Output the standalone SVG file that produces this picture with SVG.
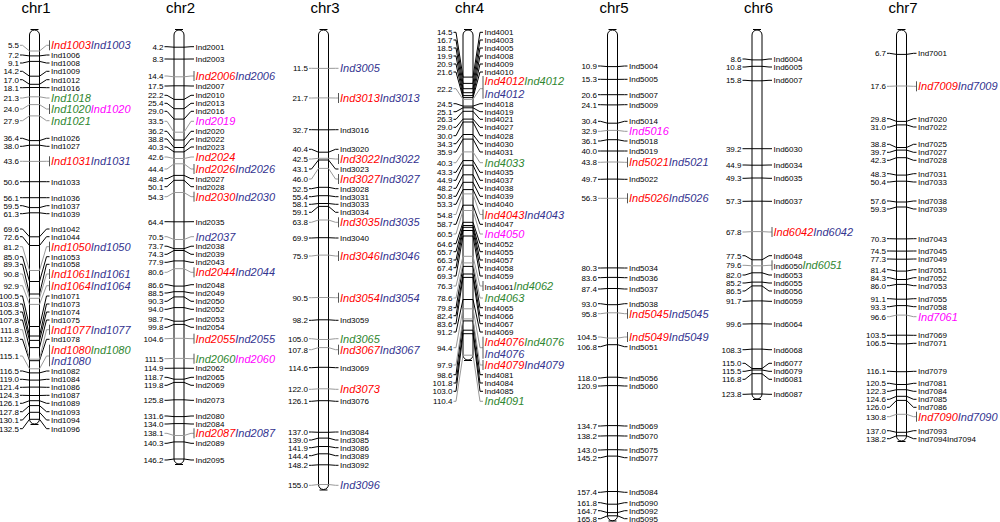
<svg xmlns="http://www.w3.org/2000/svg" width="1000" height="522" viewBox="0 0 1000 522">
<style>
.pill{fill:#fff;stroke:#000;stroke-width:1}
.end{fill:none;stroke:#000;stroke-width:1.2}
.t{font-family:"Liberation Sans",Arial,sans-serif;font-size:15px;text-anchor:middle}
.n{font-family:"Liberation Sans",Arial,sans-serif;font-size:8px;text-anchor:end}
.l{font-family:"Liberation Sans",Arial,sans-serif;font-size:8px}
.q{font-family:"Liberation Sans",Arial,sans-serif;font-size:11px;font-style:italic}
.r{fill:#f00}.b{fill:#33338f}.g{fill:#2f862f}.p{fill:#f0f}.k{fill:#000}
.ck{fill:none;stroke:#000;stroke-width:1}
.cg{fill:none;stroke:#999;stroke-width:1}
.tk{fill:none;stroke:#555;stroke-width:1}
</style>
<rect width="1000" height="522" fill="#fff"/>

<g id="chr1" transform="translate(34.5,0)">
<rect class="pill" x="-5" y="30" width="10" height="394" rx="5"/>
<path class="end" d="M-4 29.5H4M-4 424.5H4"/>
<text class="t" x="1.5" y="13">chr1</text>
<text class="n" x="-15.5" y="48.3">5.5</text><text class="n" x="-15.5" y="58">7.2</text><text class="n" x="-15.5" y="66">9.1</text><text class="n" x="-15.5" y="74.3">14.2</text><text class="n" x="-15.5" y="82.7">17.0</text><text class="n" x="-15.5" y="90.7">18.1</text><text class="n" x="-15.5" y="101">21.3</text><text class="n" x="-15.5" y="112">24.0</text><text class="n" x="-15.5" y="123.7">27.9</text><text class="n" x="-15.5" y="141.3">36.4</text><text class="n" x="-15.5" y="149.3">38.0</text><text class="n" x="-15.5" y="164.3">43.6</text><text class="n" x="-15.5" y="184.7">50.6</text><text class="n" x="-15.5" y="200.7">56.1</text><text class="n" x="-15.5" y="208.7">59.5</text><text class="n" x="-15.5" y="216.7">61.3</text><text class="n" x="-15.5" y="232">69.6</text><text class="n" x="-15.5" y="239.7">72.6</text><text class="n" x="-15.5" y="249.7">81.2</text><text class="n" x="-15.5" y="259.7">85.0</text><text class="n" x="-15.5" y="267.3">89.3</text><text class="n" x="-15.5" y="277">90.8</text><text class="n" x="-15.5" y="288.7">92.9</text><text class="n" x="-15.5" y="299">100.5</text><text class="n" x="-15.5" y="307">103.8</text><text class="n" x="-15.5" y="315">105.3</text><text class="n" x="-15.5" y="323">107.8</text><text class="n" x="-15.5" y="332.7">111.8</text><text class="n" x="-15.5" y="342.3">112.3</text><text class="n" x="-15.5" y="359">115.1</text><text class="n" x="-15.5" y="374">116.5</text><text class="n" x="-15.5" y="382.3">119.0</text><text class="n" x="-15.5" y="390.3">121.4</text><text class="n" x="-15.5" y="398.3">124.3</text><text class="n" x="-15.5" y="406.3">126.1</text><text class="n" x="-15.5" y="414.7">127.8</text><text class="n" x="-15.5" y="423">130.1</text><text class="n" x="-15.5" y="431.7">132.5</text>
<text class="q r" x="16.5" y="49.3">Ind1003<tspan class="b">Ind1003</tspan></text>
<text class="l" x="16.5" y="58">Ind1006</text><text class="l" x="16.5" y="66">Ind1008</text><text class="l" x="16.5" y="74.3">Ind1009</text><text class="l" x="16.5" y="82.7">Ind1012</text><text class="l" x="16.5" y="90.7">Ind1016</text>
<text class="q g" x="16.5" y="102">Ind1018</text>
<text class="q g" x="16.5" y="113">Ind1020<tspan class="p">Ind1020</tspan></text>
<text class="q g" x="16.5" y="124.7">Ind1021</text>
<text class="l" x="16.5" y="141.3">Ind1026</text><text class="l" x="16.5" y="149.3">Ind1027</text>
<text class="q r" x="16.5" y="165.3">Ind1031<tspan class="b">Ind1031</tspan></text>
<text class="l" x="16.5" y="184.7">Ind1033</text><text class="l" x="16.5" y="200.7">Ind1036</text><text class="l" x="16.5" y="208.7">Ind1037</text><text class="l" x="16.5" y="216.7">Ind1039</text><text class="l" x="16.5" y="232">Ind1042</text><text class="l" x="16.5" y="239.7">Ind1044</text>
<text class="q r" x="16.5" y="250.7">Ind1050<tspan class="b">Ind1050</tspan></text>
<text class="l" x="16.5" y="259.7">Ind1053</text><text class="l" x="16.5" y="267.3">Ind1058</text>
<text class="q r" x="16.5" y="278">Ind1061<tspan class="b">Ind1061</tspan></text>
<text class="q r" x="16.5" y="289.7">Ind1064<tspan class="b">Ind1064</tspan></text>
<text class="l" x="16.5" y="299">Ind1071</text><text class="l" x="16.5" y="307">Ind1073</text><text class="l" x="16.5" y="315">Ind1074</text><text class="l" x="16.5" y="323">Ind1075</text>
<text class="q r" x="16.5" y="333.7">Ind1077<tspan class="b">Ind1077</tspan></text>
<text class="l" x="16.5" y="342.3">Ind1078</text>
<text class="q r" x="16.5" y="353.7">Ind1080<tspan class="g">Ind1080</tspan></text>
<text class="q b" x="16.5" y="365.3">Ind1080</text>
<text class="l" x="16.5" y="374">Ind1082</text><text class="l" x="16.5" y="382.3">Ind1084</text><text class="l" x="16.5" y="390.3">Ind1086</text><text class="l" x="16.5" y="398.3">Ind1087</text><text class="l" x="16.5" y="406.3">Ind1089</text><text class="l" x="16.5" y="414.7">Ind1093</text><text class="l" x="16.5" y="423">Ind1094</text><text class="l" x="16.5" y="431.7">Ind1096</text>
</g>

<g id="chr2" transform="translate(179,0)">
<rect class="pill" x="-5" y="30" width="10" height="434" rx="5"/>
<path class="end" d="M-4 29.5H4M-4 464.5H4"/>
<text class="t" x="1.5" y="13">chr2</text>
<text class="n" x="-15.5" y="49.7">4.2</text><text class="n" x="-15.5" y="62">8.3</text><text class="n" x="-15.5" y="79">14.4</text><text class="n" x="-15.5" y="89">17.5</text><text class="n" x="-15.5" y="98.3">22.2</text><text class="n" x="-15.5" y="106.3">25.4</text><text class="n" x="-15.5" y="114.3">29.0</text><text class="n" x="-15.5" y="124.3">33.5</text><text class="n" x="-15.5" y="134.3">36.2</text><text class="n" x="-15.5" y="142">38.8</text><text class="n" x="-15.5" y="150">40.3</text><text class="n" x="-15.5" y="160">42.6</text><text class="n" x="-15.5" y="172">44.4</text><text class="n" x="-15.5" y="181.7">48.4</text><text class="n" x="-15.5" y="189.7">50.1</text><text class="n" x="-15.5" y="199.7">54.3</text><text class="n" x="-15.5" y="224.7">64.4</text><text class="n" x="-15.5" y="239.7">70.5</text><text class="n" x="-15.5" y="249.2">73.7</text><text class="n" x="-15.5" y="257.3">74.3</text><text class="n" x="-15.5" y="265.3">77.9</text><text class="n" x="-15.5" y="275.3">80.6</text><text class="n" x="-15.5" y="287.7">86.6</text><text class="n" x="-15.5" y="296">88.5</text><text class="n" x="-15.5" y="304.3">90.3</text><text class="n" x="-15.5" y="312.3">94.0</text><text class="n" x="-15.5" y="322">98.7</text><text class="n" x="-15.5" y="330.3">99.8</text><text class="n" x="-15.5" y="341.7">104.6</text><text class="n" x="-15.5" y="361.7">111.5</text><text class="n" x="-15.5" y="371.3">114.9</text><text class="n" x="-15.5" y="380.3">118.7</text><text class="n" x="-15.5" y="388.3">119.8</text><text class="n" x="-15.5" y="403.3">125.8</text><text class="n" x="-15.5" y="419">131.6</text><text class="n" x="-15.5" y="427">134.0</text><text class="n" x="-15.5" y="436.3">138.1</text><text class="n" x="-15.5" y="446.3">140.3</text><text class="n" x="-15.5" y="463">146.2</text>
<text class="l" x="16.5" y="49.7">Ind2001</text><text class="l" x="16.5" y="62">Ind2003</text>
<text class="q r" x="16.5" y="80">Ind2006<tspan class="b">Ind2006</tspan></text>
<text class="l" x="16.5" y="89">Ind2007</text><text class="l" x="16.5" y="98.3">Ind2010</text><text class="l" x="16.5" y="106.3">Ind2013</text><text class="l" x="16.5" y="114.3">Ind2016</text>
<text class="q p" x="16.5" y="125.3">Ind2019</text>
<text class="l" x="16.5" y="134.3">Ind2020</text><text class="l" x="16.5" y="142">Ind2022</text><text class="l" x="16.5" y="150">Ind2023</text>
<text class="q r" x="16.5" y="161">Ind2024</text>
<text class="q r" x="16.5" y="173">Ind2026<tspan class="b">Ind2026</tspan></text>
<text class="l" x="16.5" y="181.7">Ind2027</text><text class="l" x="16.5" y="189.7">Ind2028</text>
<text class="q r" x="16.5" y="200.7">Ind2030<tspan class="b">Ind2030</tspan></text>
<text class="l" x="16.5" y="224.7">Ind2035</text>
<text class="q b" x="16.5" y="240.7">Ind2037</text>
<text class="l" x="16.5" y="249.2">Ind2038</text><text class="l" x="16.5" y="257.3">Ind2039</text><text class="l" x="16.5" y="265.3">Ind2043</text>
<text class="q r" x="16.5" y="276.3">Ind2044<tspan class="b">Ind2044</tspan></text>
<text class="l" x="16.5" y="287.7">Ind2048</text><text class="l" x="16.5" y="296">Ind2049</text><text class="l" x="16.5" y="304.3">Ind2050</text><text class="l" x="16.5" y="312.3">Ind2052</text><text class="l" x="16.5" y="322">Ind2053</text><text class="l" x="16.5" y="330.3">Ind2054</text>
<text class="q r" x="16.5" y="342.7">Ind2055<tspan class="b">Ind2055</tspan></text>
<text class="q g" x="16.5" y="362.7">Ind2060<tspan class="p">Ind2060</tspan></text>
<text class="l" x="16.5" y="371.3">Ind2062</text><text class="l" x="16.5" y="380.3">Ind2065</text><text class="l" x="16.5" y="388.3">Ind2069</text><text class="l" x="16.5" y="403.3">Ind2073</text><text class="l" x="16.5" y="419">Ind2080</text><text class="l" x="16.5" y="427">Ind2084</text>
<text class="q r" x="16.5" y="437.3">Ind2087<tspan class="b">Ind2087</tspan></text>
<text class="l" x="16.5" y="446.3">Ind2089</text><text class="l" x="16.5" y="463">Ind2095</text>
</g>

<g id="chr3" transform="translate(323.5,0)">
<rect class="pill" x="-5" y="30" width="10" height="459.5" rx="5"/>
<path class="end" d="M-4 29.5H4M-4 490H4"/>
<text class="t" x="1.5" y="13">chr3</text>
<text class="n" x="-15.5" y="71.3">11.5</text><text class="n" x="-15.5" y="101">21.7</text><text class="n" x="-15.5" y="132.7">32.7</text><text class="n" x="-15.5" y="152.3">40.4</text><text class="n" x="-15.5" y="162">42.5</text><text class="n" x="-15.5" y="172">43.1</text><text class="n" x="-15.5" y="182">46.0</text><text class="n" x="-15.5" y="191.7">52.5</text><text class="n" x="-15.5" y="199.7">55.4</text><text class="n" x="-15.5" y="207.3">58.1</text><text class="n" x="-15.5" y="215.3">59.1</text><text class="n" x="-15.5" y="225.3">63.8</text><text class="n" x="-15.5" y="241">69.9</text><text class="n" x="-15.5" y="259">75.9</text><text class="n" x="-15.5" y="300.7">90.5</text><text class="n" x="-15.5" y="323.3">98.2</text><text class="n" x="-15.5" y="341.7">105.0</text><text class="n" x="-15.5" y="352.7">107.8</text><text class="n" x="-15.5" y="370.7">114.6</text><text class="n" x="-15.5" y="392.3">122.0</text><text class="n" x="-15.5" y="404.3">126.1</text><text class="n" x="-15.5" y="435">137.0</text><text class="n" x="-15.5" y="443">139.0</text><text class="n" x="-15.5" y="450.7">141.9</text><text class="n" x="-15.5" y="458.7">144.4</text><text class="n" x="-15.5" y="468.3">148.2</text><text class="n" x="-15.5" y="488.3">155.0</text>
<text class="q b" x="16.5" y="72.3">Ind3005</text>
<text class="q r" x="16.5" y="102">Ind3013<tspan class="b">Ind3013</tspan></text>
<text class="l" x="16.5" y="132.7">Ind3016</text><text class="l" x="16.5" y="152.3">Ind3020</text>
<text class="q r" x="16.5" y="163">Ind3022<tspan class="b">Ind3022</tspan></text>
<text class="l" x="16.5" y="172">Ind3023</text>
<text class="q r" x="16.5" y="183">Ind3027<tspan class="b">Ind3027</tspan></text>
<text class="l" x="16.5" y="191.7">Ind3028</text><text class="l" x="16.5" y="199.7">Ind3031</text><text class="l" x="16.5" y="207.3">Ind3033</text><text class="l" x="16.5" y="215.3">Ind3034</text>
<text class="q r" x="16.5" y="226.3">Ind3035<tspan class="b">Ind3035</tspan></text>
<text class="l" x="16.5" y="241">Ind3040</text>
<text class="q r" x="16.5" y="260">Ind3046<tspan class="b">Ind3046</tspan></text>
<text class="q r" x="16.5" y="301.7">Ind3054<tspan class="b">Ind3054</tspan></text>
<text class="l" x="16.5" y="323.3">Ind3059</text>
<text class="q g" x="16.5" y="342.7">Ind3065</text>
<text class="q r" x="16.5" y="353.7">Ind3067<tspan class="b">Ind3067</tspan></text>
<text class="l" x="16.5" y="370.7">Ind3069</text>
<text class="q r" x="16.5" y="393.3">Ind3073</text>
<text class="l" x="16.5" y="404.3">Ind3076</text><text class="l" x="16.5" y="435">Ind3084</text><text class="l" x="16.5" y="443">Ind3085</text><text class="l" x="16.5" y="450.7">Ind3086</text><text class="l" x="16.5" y="458.7">Ind3089</text><text class="l" x="16.5" y="468.3">Ind3092</text>
<text class="q b" x="16.5" y="489.3">Ind3096</text>
</g>

<g id="chr4" transform="translate(468,0)">
<rect class="pill" x="-5" y="30" width="10" height="330" rx="5"/>
<path class="end" d="M-4 29.5H4M-4 360.5H4"/>
<text class="t" x="1.5" y="13">chr4</text>
<text class="n" x="-15.5" y="35.3">14.5</text><text class="n" x="-15.5" y="43">16.7</text><text class="n" x="-15.5" y="51">18.5</text><text class="n" x="-15.5" y="59">19.9</text><text class="n" x="-15.5" y="67">20.9</text><text class="n" x="-15.5" y="75">21.6</text><text class="n" x="-15.5" y="91.7">22.2</text><text class="n" x="-15.5" y="106.7">24.5</text><text class="n" x="-15.5" y="114.7">25.1</text><text class="n" x="-15.5" y="122.3">26.3</text><text class="n" x="-15.5" y="130.3">29.0</text><text class="n" x="-15.5" y="138.7">30.0</text><text class="n" x="-15.5" y="146.7">34.3</text><text class="n" x="-15.5" y="155">35.9</text><text class="n" x="-15.5" y="165.7">40.3</text><text class="n" x="-15.5" y="175.3">43.3</text><text class="n" x="-15.5" y="183.3">44.9</text><text class="n" x="-15.5" y="191.3">48.2</text><text class="n" x="-15.5" y="199.3">50.8</text><text class="n" x="-15.5" y="207.3">53.3</text><text class="n" x="-15.5" y="217.5">54.8</text><text class="n" x="-15.5" y="227.3">58.7</text><text class="n" x="-15.5" y="237">60.5</text><text class="n" x="-15.5" y="246.7">64.6</text><text class="n" x="-15.5" y="254.7">65.7</text><text class="n" x="-15.5" y="263">66.3</text><text class="n" x="-15.5" y="270.7">67.4</text><text class="n" x="-15.5" y="279">69.3</text><text class="n" x="-15.5" y="289">76.3</text><text class="n" x="-15.5" y="301">78.6</text><text class="n" x="-15.5" y="310.7">79.8</text><text class="n" x="-15.5" y="318.7">82.4</text><text class="n" x="-15.5" y="326.7">83.6</text><text class="n" x="-15.5" y="335">91.2</text><text class="n" x="-15.5" y="350.7">94.4</text><text class="n" x="-15.5" y="368">97.9</text><text class="n" x="-15.5" y="377.7">98.6</text><text class="n" x="-15.5" y="386">101.8</text><text class="n" x="-15.5" y="394.3">103.0</text><text class="n" x="-15.5" y="404.3">110.4</text>
<text class="l" x="16.5" y="35.3">Ind4001</text><text class="l" x="16.5" y="43">Ind4003</text><text class="l" x="16.5" y="51">Ind4005</text><text class="l" x="16.5" y="59">Ind4008</text><text class="l" x="16.5" y="67">Ind4009</text><text class="l" x="16.5" y="75">Ind4010</text>
<text class="q r" x="16.5" y="85">Ind4012<tspan class="g">Ind4012</tspan></text>
<text class="q b" x="16.5" y="97.7">Ind4012</text>
<text class="l" x="16.5" y="106.7">Ind4018</text><text class="l" x="16.5" y="114.7">Ind4019</text><text class="l" x="16.5" y="122.3">Ind4021</text><text class="l" x="16.5" y="130.3">Ind4027</text><text class="l" x="16.5" y="138.7">Ind4028</text><text class="l" x="16.5" y="146.7">Ind4030</text><text class="l" x="16.5" y="155">Ind4031</text>
<text class="q g" x="16.5" y="166.7">Ind4033</text>
<text class="l" x="16.5" y="175.3">Ind4035</text><text class="l" x="16.5" y="183.3">Ind4037</text><text class="l" x="16.5" y="191.3">Ind4038</text><text class="l" x="16.5" y="199.3">Ind4039</text><text class="l" x="16.5" y="207.3">Ind4040</text>
<text class="q r" x="16.5" y="218.5">Ind4043<tspan class="b">Ind4043</tspan></text>
<text class="l" x="16.5" y="227.3">Ind4047</text>
<text class="q p" x="16.5" y="238">Ind4050</text>
<text class="l" x="16.5" y="246.7">Ind4052</text><text class="l" x="16.5" y="254.7">Ind4055</text><text class="l" x="16.5" y="263">Ind4057</text><text class="l" x="16.5" y="270.7">Ind4058</text><text class="l" x="16.5" y="279">Ind4059</text>
<text class="l" x="16.5" y="289.7">Ind4061<tspan class="q g">Ind4062</tspan></text>
<text class="q g" x="16.5" y="302">Ind4063</text>
<text class="l" x="16.5" y="310.7">Ind4065</text><text class="l" x="16.5" y="318.7">Ind4066</text><text class="l" x="16.5" y="326.7">Ind4067</text><text class="l" x="16.5" y="335">Ind4069</text>
<text class="q r" x="16.5" y="345.7">Ind4076<tspan class="g">Ind4076</tspan></text>
<text class="q b" x="16.5" y="357.7">Ind4076</text>
<text class="q r" x="16.5" y="369">Ind4079<tspan class="b">Ind4079</tspan></text>
<text class="l" x="16.5" y="377.7">Ind4081</text><text class="l" x="16.5" y="386">Ind4084</text><text class="l" x="16.5" y="394.3">Ind4085</text>
<text class="q g" x="16.5" y="405.3">Ind4091</text>
</g>

<g id="chr5" transform="translate(612.5,0)">
<rect class="pill" x="-5" y="30" width="10" height="490.8" rx="5"/>
<path class="end" d="M-4 29.5H4M-4 521H4"/>
<text class="t" x="1.5" y="13">chr5</text>
<text class="n" x="-15.5" y="69">10.9</text><text class="n" x="-15.5" y="82.3">15.3</text><text class="n" x="-15.5" y="97.7">20.6</text><text class="n" x="-15.5" y="107.7">24.1</text><text class="n" x="-15.5" y="124.3">30.4</text><text class="n" x="-15.5" y="134.3">32.9</text><text class="n" x="-15.5" y="144">36.1</text><text class="n" x="-15.5" y="154">40.0</text><text class="n" x="-15.5" y="165.3">43.8</text><text class="n" x="-15.5" y="182.3">49.7</text><text class="n" x="-15.5" y="201.3">56.3</text><text class="n" x="-15.5" y="271">80.3</text><text class="n" x="-15.5" y="280.7">83.6</text><text class="n" x="-15.5" y="292">87.4</text><text class="n" x="-15.5" y="306.7">93.0</text><text class="n" x="-15.5" y="316.7">95.8</text><text class="n" x="-15.5" y="340">104.5</text><text class="n" x="-15.5" y="349.7">106.8</text><text class="n" x="-15.5" y="381">118.0</text><text class="n" x="-15.5" y="389">120.9</text><text class="n" x="-15.5" y="429">134.7</text><text class="n" x="-15.5" y="439">138.2</text><text class="n" x="-15.5" y="453">143.0</text><text class="n" x="-15.5" y="460.7">145.2</text><text class="n" x="-15.5" y="495.3">157.4</text><text class="n" x="-15.5" y="505.7">161.8</text><text class="n" x="-15.5" y="513.7">164.7</text><text class="n" x="-15.5" y="521.5">165.8</text>
<text class="l" x="16.5" y="69">Ind5004</text><text class="l" x="16.5" y="82.3">Ind5005</text><text class="l" x="16.5" y="97.7">Ind5007</text><text class="l" x="16.5" y="107.7">Ind5009</text><text class="l" x="16.5" y="124.3">Ind5014</text>
<text class="q p" x="16.5" y="135.3">Ind5016</text>
<text class="l" x="16.5" y="144">Ind5018</text><text class="l" x="16.5" y="154">Ind5019</text>
<text class="q r" x="16.5" y="166.3">Ind5021<tspan class="b">Ind5021</tspan></text>
<text class="l" x="16.5" y="182.3">Ind5022</text>
<text class="q r" x="16.5" y="202.3">Ind5026<tspan class="b">Ind5026</tspan></text>
<text class="l" x="16.5" y="271">Ind5034</text><text class="l" x="16.5" y="280.7">Ind5036</text><text class="l" x="16.5" y="292">Ind5037</text><text class="l" x="16.5" y="306.7">Ind5038</text>
<text class="q r" x="16.5" y="317.7">Ind5045<tspan class="b">Ind5045</tspan></text>
<text class="q r" x="16.5" y="341">Ind5049<tspan class="b">Ind5049</tspan></text>
<text class="l" x="16.5" y="349.7">Ind5051</text><text class="l" x="16.5" y="381">Ind5056</text><text class="l" x="16.5" y="389">Ind5060</text><text class="l" x="16.5" y="429">Ind5069</text><text class="l" x="16.5" y="439">Ind5070</text><text class="l" x="16.5" y="453">Ind5075</text><text class="l" x="16.5" y="460.7">Ind5077</text><text class="l" x="16.5" y="495.3">Ind5084</text><text class="l" x="16.5" y="505.7">Ind5090</text><text class="l" x="16.5" y="513.7">Ind5092</text><text class="l" x="16.5" y="521.5">Ind5095</text>
</g>

<g id="chr6" transform="translate(757,0)">
<rect class="pill" x="-5" y="30" width="10" height="369" rx="5"/>
<path class="end" d="M-4 29.5H4M-4 399.5H4"/>
<text class="t" x="1.5" y="13">chr6</text>
<text class="n" x="-15.5" y="62">8.6</text><text class="n" x="-15.5" y="70">10.8</text><text class="n" x="-15.5" y="83.3">15.8</text><text class="n" x="-15.5" y="151.7">39.2</text><text class="n" x="-15.5" y="168">44.9</text><text class="n" x="-15.5" y="181.3">49.3</text><text class="n" x="-15.5" y="204.3">57.3</text><text class="n" x="-15.5" y="235">67.8</text><text class="n" x="-15.5" y="258.7">77.5</text><text class="n" x="-15.5" y="268.3">79.6</text><text class="n" x="-15.5" y="278">82.0</text><text class="n" x="-15.5" y="286">85.2</text><text class="n" x="-15.5" y="294">86.5</text><text class="n" x="-15.5" y="304.3">91.7</text><text class="n" x="-15.5" y="327">99.6</text><text class="n" x="-15.5" y="352.7">108.3</text><text class="n" x="-15.5" y="366.3">115.0</text><text class="n" x="-15.5" y="374.3">115.5</text><text class="n" x="-15.5" y="382.3">116.8</text><text class="n" x="-15.5" y="397.3">123.8</text>
<text class="l" x="16.5" y="62">Ind6004</text><text class="l" x="16.5" y="70">Ind6005</text><text class="l" x="16.5" y="83.3">Ind6007</text><text class="l" x="16.5" y="151.7">Ind6030</text><text class="l" x="16.5" y="168">Ind6034</text><text class="l" x="16.5" y="181.3">Ind6035</text><text class="l" x="16.5" y="204.3">Ind6037</text>
<text class="q r" x="16.5" y="236">Ind6042<tspan class="b">Ind6042</tspan></text>
<text class="l" x="16.5" y="258.7">Ind6048</text>
<text class="l" x="16.5" y="268.7">Ind6050<tspan class="q g">Ind6051</tspan></text>
<text class="l" x="16.5" y="278">Ind6053</text><text class="l" x="16.5" y="286">Ind6055</text><text class="l" x="16.5" y="294">Ind6056</text><text class="l" x="16.5" y="304.3">Ind6059</text><text class="l" x="16.5" y="327">Ind6064</text><text class="l" x="16.5" y="352.7">Ind6068</text><text class="l" x="16.5" y="366.3">Ind6077</text><text class="l" x="16.5" y="374.3">Ind6079</text><text class="l" x="16.5" y="382.3">Ind6081</text><text class="l" x="16.5" y="397.3">Ind6087</text>
</g>

<g id="chr7" transform="translate(901.5,0)">
<rect class="pill" x="-5" y="30" width="10" height="411" rx="5"/>
<path class="end" d="M-4 29.5H4M-4 441.5H4"/>
<text class="t" x="1.5" y="13">chr7</text>
<text class="n" x="-15.5" y="56.3">6.7</text><text class="n" x="-15.5" y="89.3">17.6</text><text class="n" x="-15.5" y="121.7">29.8</text><text class="n" x="-15.5" y="130">31.0</text><text class="n" x="-15.5" y="147.3">38.8</text><text class="n" x="-15.5" y="155.3">39.7</text><text class="n" x="-15.5" y="163.3">42.3</text><text class="n" x="-15.5" y="176.7">48.3</text><text class="n" x="-15.5" y="185">50.4</text><text class="n" x="-15.5" y="204">57.6</text><text class="n" x="-15.5" y="212">59.3</text><text class="n" x="-15.5" y="241.7">70.3</text><text class="n" x="-15.5" y="254">74.5</text><text class="n" x="-15.5" y="262">77.3</text><text class="n" x="-15.5" y="272.7">81.4</text><text class="n" x="-15.5" y="280.7">84.3</text><text class="n" x="-15.5" y="288.7">86.0</text><text class="n" x="-15.5" y="301.7">91.1</text><text class="n" x="-15.5" y="309.7">93.3</text><text class="n" x="-15.5" y="319.7">96.6</text><text class="n" x="-15.5" y="338.3">103.5</text><text class="n" x="-15.5" y="346.3">106.5</text><text class="n" x="-15.5" y="374.3">116.1</text><text class="n" x="-15.5" y="386.3">120.5</text><text class="n" x="-15.5" y="394.3">122.3</text><text class="n" x="-15.5" y="402.3">124.6</text><text class="n" x="-15.5" y="410.3">126.0</text><text class="n" x="-15.5" y="419.7">130.8</text><text class="n" x="-15.5" y="433.7">137.0</text><text class="n" x="-15.5" y="441.7">138.2</text>
<text class="l" x="16.5" y="56.3">Ind7001</text>
<text class="q r" x="16.5" y="90.3">Ind7009<tspan class="b">Ind7009</tspan></text>
<text class="l" x="16.5" y="121.7">Ind7020</text><text class="l" x="16.5" y="130">Ind7022</text><text class="l" x="16.5" y="147.3">Ind7025</text><text class="l" x="16.5" y="155.3">Ind7027</text><text class="l" x="16.5" y="163.3">Ind7028</text><text class="l" x="16.5" y="176.7">Ind7031</text><text class="l" x="16.5" y="185">Ind7033</text><text class="l" x="16.5" y="204">Ind7038</text><text class="l" x="16.5" y="212">Ind7039</text><text class="l" x="16.5" y="241.7">Ind7043</text><text class="l" x="16.5" y="254">Ind7045</text><text class="l" x="16.5" y="262">Ind7049</text><text class="l" x="16.5" y="272.7">Ind7051</text><text class="l" x="16.5" y="280.7">Ind7052</text><text class="l" x="16.5" y="288.7">Ind7053</text><text class="l" x="16.5" y="301.7">Ind7055</text><text class="l" x="16.5" y="309.7">Ind7058</text>
<text class="q p" x="16.5" y="320.7">Ind7061</text>
<text class="l" x="16.5" y="338.3">Ind7069</text><text class="l" x="16.5" y="346.3">Ind7071</text><text class="l" x="16.5" y="374.3">Ind7079</text><text class="l" x="16.5" y="386.3">Ind7081</text><text class="l" x="16.5" y="394.3">Ind7084</text><text class="l" x="16.5" y="402.3">Ind7085</text><text class="l" x="16.5" y="410.3">Ind7086</text>
<text class="q r" x="16.5" y="420.7">Ind7090<tspan class="b">Ind7090</tspan></text>
<text class="l" x="16.5" y="433.7">Ind7093</text><text class="l" x="16.5" y="441.7">Ind7094Ind7094</text>
</g>

<g id="connectors">
<g transform="translate(34.5,0)">
<path class="ck" d="M-14.5 55H-12L-5 55.9H5L12 55H15M-14.5 63H-12L-5 61.4H5L12 63H15M-14.5 71.3H-12L-5 76.2H5L12 71.3H15M-14.5 79.7H-12L-5 84.3H5L12 79.7H15M-14.5 87.7H-12L-5 87.5H5L12 87.7H15M-14.5 138.3H-12L-5 140.6H5L12 138.3H15M-14.5 146.3H-12L-5 145.2H5L12 146.3H15M-14.5 181.7H-12L-5 181.7H5L12 181.7H15M-14.5 197.7H-12L-5 197.7H5L12 197.7H15M-14.5 205.7H-12L-5 207.6H5L12 205.7H15M-14.5 213.7H-12L-5 212.8H5L12 213.7H15M-14.5 229H-12L-5 236.8H5L12 229H15M-14.5 236.7H-12L-5 245.5H5L12 236.7H15M-14.5 256.7H-12L-5 281.5H5L12 256.7H15M-14.5 264.3H-12L-5 294H5L12 264.3H15M-14.5 296H-12L-5 326.5H5L12 296H15M-14.5 304H-12L-5 336H5L12 304H15M-14.5 312H-12L-5 340.4H5L12 312H15M-14.5 320H-12L-5 347.6H5L12 320H15M-14.5 339.3H-12L-5 360.7H5L12 339.3H15M-14.5 371H-12L-5 372.9H5L12 371H15M-14.5 379.3H-12L-5 380.1H5L12 379.3H15M-14.5 387.3H-12L-5 387.1H5L12 387.3H15M-14.5 395.3H-12L-5 395.5H5L12 395.3H15M-14.5 403.3H-12L-5 400.7H5L12 403.3H15M-14.5 411.7H-12L-5 405.6H5L12 411.7H15M-14.5 420H-12L-5 412.3H5L12 420H15M-14.5 428.7H-12L-5 419.3H5L12 428.7H15"/>
<path class="cg" d="M-14.5 45.3H-12L-5 51H5L12 45.3H15M-14.5 98H-12L-5 96.8H5L12 98H15M-14.5 109H-12L-5 104.6H5L12 109H15M-14.5 120.7H-12L-5 115.9H5L12 120.7H15M-14.5 161.3H-12L-5 161.4H5L12 161.3H15M-14.5 246.7H-12L-5 270.5H5L12 246.7H15M-14.5 274H-12L-5 298.3H5L12 274H15M-14.5 285.7H-12L-5 304.4H5L12 285.7H15M-14.5 329.7H-12L-5 359.2H5L12 329.7H15M-14.5 356H-12L-5 368.8H5L12 356H15"/>
<path class="tk" d="M15 40.3V50.3M15 104V114M15 156.3V166.3M15 241.7V251.7M15 269V279M15 280.7V290.7M15 324.7V334.7M15 344.7V366.3"/>
</g>
<g transform="translate(179,0)">
<path class="ck" d="M-14.5 46.7H-12L-5 47.2H5L12 46.7H15M-14.5 59H-12L-5 59.1H5L12 59H15M-14.5 86H-12L-5 85.8H5L12 86H15M-14.5 95.3H-12L-5 99.4H5L12 95.3H15M-14.5 103.3H-12L-5 108.7H5L12 103.3H15M-14.5 111.3H-12L-5 119.1H5L12 111.3H15M-14.5 131.3H-12L-5 140H5L12 131.3H15M-14.5 139H-12L-5 147.5H5L12 139H15M-14.5 147H-12L-5 151.9H5L12 147H15M-14.5 178.7H-12L-5 175.4H5L12 178.7H15M-14.5 186.7H-12L-5 180.3H5L12 186.7H15M-14.5 221.7H-12L-5 221.8H5L12 221.7H15M-14.5 246.2H-12L-5 248.7H5L12 246.2H15M-14.5 254.3H-12L-5 250.5H5L12 254.3H15M-14.5 262.3H-12L-5 260.9H5L12 262.3H15M-14.5 284.7H-12L-5 286.1H5L12 284.7H15M-14.5 293H-12L-5 291.7H5L12 293H15M-14.5 301.3H-12L-5 296.9H5L12 301.3H15M-14.5 309.3H-12L-5 307.6H5L12 309.3H15M-14.5 319H-12L-5 321.2H5L12 319H15M-14.5 327.3H-12L-5 324.4H5L12 327.3H15M-14.5 368.3H-12L-5 368.2H5L12 368.3H15M-14.5 377.3H-12L-5 379.2H5L12 377.3H15M-14.5 385.3H-12L-5 382.4H5L12 385.3H15M-14.5 400.3H-12L-5 399.8H5L12 400.3H15M-14.5 416H-12L-5 416.6H5L12 416H15M-14.5 424H-12L-5 423.6H5L12 424H15M-14.5 443.3H-12L-5 441.9H5L12 443.3H15M-14.5 460H-12L-5 459H5L12 460H15"/>
<path class="cg" d="M-14.5 76H-12L-5 76.8H5L12 76H15M-14.5 121.3H-12L-5 132.2H5L12 121.3H15M-14.5 157H-12L-5 158.5H5L12 157H15M-14.5 169H-12L-5 163.8H5L12 169H15M-14.5 196.7H-12L-5 192.5H5L12 196.7H15M-14.5 236.7H-12L-5 239.5H5L12 236.7H15M-14.5 272.3H-12L-5 268.7H5L12 272.3H15M-14.5 338.7H-12L-5 338.3H5L12 338.7H15M-14.5 358.7H-12L-5 358.4H5L12 358.7H15M-14.5 433.3H-12L-5 435.5H5L12 433.3H15"/>
<path class="tk" d="M15 71V81M15 164V174M15 191.7V201.7M15 267.3V277.3M15 333.7V343.7M15 353.7V363.7M15 428.3V438.3"/>
</g>
<g transform="translate(323.5,0)">
<path class="ck" d="M-14.5 129.7H-12L-5 129.8H5L12 129.7H15M-14.5 149.3H-12L-5 152.2H5L12 149.3H15M-14.5 169H-12L-5 160H5L12 169H15M-14.5 188.7H-12L-5 187.3H5L12 188.7H15M-14.5 196.7H-12L-5 195.7H5L12 196.7H15M-14.5 204.3H-12L-5 203.5H5L12 204.3H15M-14.5 212.3H-12L-5 206.4H5L12 212.3H15M-14.5 238H-12L-5 237.7H5L12 238H15M-14.5 320.3H-12L-5 319.8H5L12 320.3H15M-14.5 367.7H-12L-5 367.3H5L12 367.7H15M-14.5 401.3H-12L-5 400.7H5L12 401.3H15M-14.5 432H-12L-5 432.3H5L12 432H15M-14.5 440H-12L-5 438.1H5L12 440H15M-14.5 447.7H-12L-5 446.5H5L12 447.7H15M-14.5 455.7H-12L-5 453.8H5L12 455.7H15M-14.5 465.3H-12L-5 464.8H5L12 465.3H15"/>
<path class="cg" d="M-14.5 68.3H-12L-5 68.4H5L12 68.3H15M-14.5 98H-12L-5 97.9H5L12 98H15M-14.5 159H-12L-5 158.3H5L12 159H15M-14.5 179H-12L-5 168.4H5L12 179H15M-14.5 222.3H-12L-5 220H5L12 222.3H15M-14.5 256H-12L-5 255.1H5L12 256H15M-14.5 297.7H-12L-5 297.5H5L12 297.7H15M-14.5 338.7H-12L-5 339.5H5L12 338.7H15M-14.5 349.7H-12L-5 347.6H5L12 349.7H15M-14.5 389.3H-12L-5 388.8H5L12 389.3H15M-14.5 485.3H-12L-5 484.5H5L12 485.3H15"/>
<path class="tk" d="M15 93V103M15 154V164M15 174V184M15 217.3V227.3M15 251V261M15 292.7V302.7M15 344.7V354.7"/>
</g>
<g transform="translate(468,0)">
<path class="ck" d="M-14.5 32.3H-12L-5 77.1H5L12 32.3H15M-14.5 40H-12L-5 83.4H5L12 40H15M-14.5 48H-12L-5 88.7H5L12 48H15M-14.5 56H-12L-5 92.7H5L12 56H15M-14.5 64H-12L-5 95.6H5L12 64H15M-14.5 72H-12L-5 97.6H5L12 72H15M-14.5 103.7H-12L-5 106.1H5L12 103.7H15M-14.5 111.7H-12L-5 107.8H5L12 111.7H15M-14.5 119.3H-12L-5 111.3H5L12 119.3H15M-14.5 127.3H-12L-5 119.1H5L12 127.3H15M-14.5 135.7H-12L-5 122H5L12 135.7H15M-14.5 143.7H-12L-5 134.5H5L12 143.7H15M-14.5 152H-12L-5 139.1H5L12 152H15M-14.5 172.3H-12L-5 160.6H5L12 172.3H15M-14.5 180.3H-12L-5 165.2H5L12 180.3H15M-14.5 188.3H-12L-5 174.8H5L12 188.3H15M-14.5 196.3H-12L-5 182.3H5L12 196.3H15M-14.5 204.3H-12L-5 189.6H5L12 204.3H15M-14.5 224.3H-12L-5 205.2H5L12 224.3H15M-14.5 243.7H-12L-5 222.3H5L12 243.7H15M-14.5 251.7H-12L-5 225.5H5L12 251.7H15M-14.5 260H-12L-5 227.3H5L12 260H15M-14.5 267.7H-12L-5 230.5H5L12 267.7H15M-14.5 276H-12L-5 236H5L12 276H15M-14.5 307.7H-12L-5 266.4H5L12 307.7H15M-14.5 315.7H-12L-5 274H5L12 315.7H15M-14.5 323.7H-12L-5 277.4H5L12 323.7H15M-14.5 332H-12L-5 299.5H5L12 332H15M-14.5 374.7H-12L-5 320.9H5L12 374.7H15M-14.5 383H-12L-5 330.2H5L12 383H15M-14.5 391.3H-12L-5 333.7H5L12 391.3H15"/>
<path class="cg" d="M-14.5 88.7H-12L-5 99.4H5L12 88.7H15M-14.5 162.7H-12L-5 151.9H5L12 162.7H15M-14.5 214.5H-12L-5 193.9H5L12 214.5H15M-14.5 234H-12L-5 210.5H5L12 234H15M-14.5 286H-12L-5 256.3H5L12 286H15M-14.5 298H-12L-5 262.9H5L12 298H15M-14.5 347.7H-12L-5 308.8H5L12 347.7H15M-14.5 365H-12L-5 318.9H5L12 365H15M-14.5 401.3H-12L-5 355.2H5L12 401.3H15"/>
<path class="tk" d="M15 76V98.7M15 209.5V219.5M15 281V291M15 336.7V358.7M15 360V370"/>
</g>
<g transform="translate(612.5,0)">
<path class="ck" d="M-14.5 66H-12L-5 66.6H5L12 66H15M-14.5 79.3H-12L-5 79.4H5L12 79.3H15M-14.5 94.7H-12L-5 94.7H5L12 94.7H15M-14.5 104.7H-12L-5 104.9H5L12 104.7H15M-14.5 121.3H-12L-5 123.2H5L12 121.3H15M-14.5 141H-12L-5 139.7H5L12 141H15M-14.5 151H-12L-5 151H5L12 151H15M-14.5 179.3H-12L-5 179.1H5L12 179.3H15M-14.5 268H-12L-5 267.9H5L12 268H15M-14.5 277.7H-12L-5 277.4H5L12 277.7H15M-14.5 289H-12L-5 288.5H5L12 289H15M-14.5 303.7H-12L-5 304.7H5L12 303.7H15M-14.5 346.7H-12L-5 344.7H5L12 346.7H15M-14.5 378H-12L-5 377.2H5L12 378H15M-14.5 386H-12L-5 385.6H5L12 386H15M-14.5 426H-12L-5 425.6H5L12 426H15M-14.5 436H-12L-5 435.8H5L12 436H15M-14.5 450H-12L-5 449.7H5L12 450H15M-14.5 457.7H-12L-5 456.1H5L12 457.7H15M-14.5 492.3H-12L-5 491.5H5L12 492.3H15M-14.5 502.7H-12L-5 504.2H5L12 502.7H15M-14.5 510.7H-12L-5 512.6H5L12 510.7H15M-14.5 518.7H-12L-5 515.8H5L12 518.7H15"/>
<path class="cg" d="M-14.5 131.3H-12L-5 130.4H5L12 131.3H15M-14.5 162.3H-12L-5 162H5L12 162.3H15M-14.5 198.3H-12L-5 198.3H5L12 198.3H15M-14.5 313.7H-12L-5 312.8H5L12 313.7H15M-14.5 337H-12L-5 338.1H5L12 337H15"/>
<path class="tk" d="M15 157.3V167.3M15 193.3V203.3M15 308.7V318.7M15 332V342"/>
</g>
<g transform="translate(757,0)">
<path class="ck" d="M-14.5 59H-12L-5 59.9H5L12 59H15M-14.5 67H-12L-5 66.3H5L12 67H15M-14.5 80.3H-12L-5 80.8H5L12 80.3H15M-14.5 148.7H-12L-5 148.7H5L12 148.7H15M-14.5 165H-12L-5 165.2H5L12 165H15M-14.5 178.3H-12L-5 178H5L12 178.3H15M-14.5 201.3H-12L-5 201.2H5L12 201.3H15M-14.5 255.7H-12L-5 259.8H5L12 255.7H15M-14.5 275H-12L-5 272.8H5L12 275H15M-14.5 283H-12L-5 282.1H5L12 283H15M-14.5 291H-12L-5 285.9H5L12 291H15M-14.5 301.3H-12L-5 300.9H5L12 301.3H15M-14.5 324H-12L-5 323.8H5L12 324H15M-14.5 349.7H-12L-5 349.1H5L12 349.7H15M-14.5 363.3H-12L-5 368.5H5L12 363.3H15M-14.5 371.3H-12L-5 370H5L12 371.3H15M-14.5 379.3H-12L-5 373.7H5L12 379.3H15M-14.5 394.3H-12L-5 394H5L12 394.3H15"/>
<path class="cg" d="M-14.5 232H-12L-5 231.6H5L12 232H15M-14.5 265.3H-12L-5 265.8H5L12 265.3H15"/>
<path class="tk" d="M15 227V237M15 260.3V270.3"/>
</g>
<g transform="translate(901.5,0)">
<path class="ck" d="M-14.5 53.3H-12L-5 54.4H5L12 53.3H15M-14.5 118.7H-12L-5 121.4H5L12 118.7H15M-14.5 127H-12L-5 124.9H5L12 127H15M-14.5 144.3H-12L-5 147.5H5L12 144.3H15M-14.5 152.3H-12L-5 150.1H5L12 152.3H15M-14.5 160.3H-12L-5 157.7H5L12 160.3H15M-14.5 173.7H-12L-5 175.1H5L12 173.7H15M-14.5 182H-12L-5 181.2H5L12 182H15M-14.5 201H-12L-5 202H5L12 201H15M-14.5 209H-12L-5 207H5L12 209H15M-14.5 238.7H-12L-5 238.9H5L12 238.7H15M-14.5 251H-12L-5 251.1H5L12 251H15M-14.5 259H-12L-5 259.2H5L12 259H15M-14.5 269.7H-12L-5 271.1H5L12 269.7H15M-14.5 277.7H-12L-5 279.5H5L12 277.7H15M-14.5 285.7H-12L-5 284.4H5L12 285.7H15M-14.5 298.7H-12L-5 299.2H5L12 298.7H15M-14.5 306.7H-12L-5 305.6H5L12 306.7H15M-14.5 335.3H-12L-5 335.2H5L12 335.3H15M-14.5 343.3H-12L-5 343.9H5L12 343.3H15M-14.5 371.3H-12L-5 371.7H5L12 371.3H15M-14.5 383.3H-12L-5 384.5H5L12 383.3H15M-14.5 391.3H-12L-5 389.7H5L12 391.3H15M-14.5 399.3H-12L-5 396.3H5L12 399.3H15M-14.5 407.3H-12L-5 400.4H5L12 407.3H15M-14.5 430.7H-12L-5 432.3H5L12 430.7H15M-14.5 438.7H-12L-5 435.8H5L12 438.7H15"/>
<path class="cg" d="M-14.5 86.3H-12L-5 86H5L12 86.3H15M-14.5 316.7H-12L-5 315.1H5L12 316.7H15M-14.5 416.7H-12L-5 414.3H5L12 416.7H15"/>
<path class="tk" d="M15 81.3V91.3M15 411.7V421.7"/>
</g>
</g>
</svg>
